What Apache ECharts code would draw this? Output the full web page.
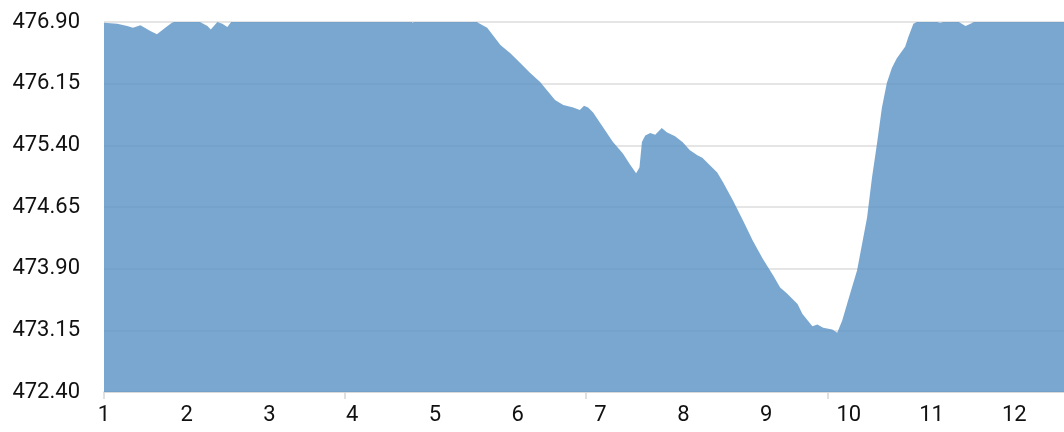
<!DOCTYPE html>
<html>
<head>
<meta charset="utf-8">
<script src="https://cdn.jsdelivr.net/npm/echarts@6/dist/echarts.min.js"></script>
<style>
  html, body { margin: 0; padding: 0; background: #fff; }
  #chart { width: 1064px; height: 432px; }
</style>
</head>
<body>
<div id="chart"></div>
<script>
// x positions along the axis
var distance = [
  1.00, 1.16, 1.28, 1.35, 1.44, 1.56, 1.64, 1.74, 1.82, 1.98,
  2.16, 2.25, 2.29, 2.37, 2.43, 2.49, 2.52, 2.58, 3.00, 3.50,
  4.00, 4.50, 4.73, 5.00, 5.40, 5.52, 5.63, 5.79, 5.91, 6.03,
  6.15, 6.27, 6.37, 6.45, 6.55, 6.67, 6.75, 6.80, 6.85, 6.91,
  7.03, 7.15, 7.27, 7.36, 7.43, 7.47, 7.50, 7.54, 7.60, 7.66,
  7.74, 7.80, 7.90, 7.99, 8.08, 8.17, 8.23, 8.30, 8.41, 8.48,
  8.60, 8.72, 8.84, 8.96, 9.09, 9.17, 9.25, 9.38, 9.44, 9.56,
  9.62, 9.69, 9.80, 9.86, 9.92, 9.99, 10.10, 10.16, 10.22, 10.28,
  10.34, 10.40, 10.46, 10.52, 10.58, 10.68, 10.72, 10.78, 10.92, 11.10,
  11.28, 11.41, 11.47, 11.71, 12.19, 12.60
];
// water level
var level = [
  476.89, 476.88, 476.85, 476.83, 476.86, 476.79, 476.75, 476.83, 476.89, 476.95,
  476.90, 476.85, 476.81, 476.90, 476.88, 476.84, 476.88, 476.95, 477.10, 477.25,
  477.30, 477.10, 476.89, 477.10, 477.00, 476.89, 476.83, 476.62, 476.52, 476.40,
  476.28, 476.17, 476.05, 475.95, 475.89, 475.86, 475.83, 475.88, 475.86, 475.80,
  475.62, 475.44, 475.30, 475.16, 475.06, 475.13, 475.44, 475.52, 475.55, 475.53,
  475.61, 475.56, 475.51, 475.44, 475.34, 475.28, 475.25, 475.18, 475.07, 474.95,
  474.73, 474.49, 474.24, 474.02, 473.81, 473.67, 473.60, 473.47, 473.35, 473.20,
  473.22, 473.18, 473.16, 473.12, 473.27, 473.51, 473.88, 474.20, 474.52, 475.01,
  475.42, 475.86, 476.16, 476.34, 476.46, 476.60, 476.72, 476.88, 476.95, 476.89,
  476.93, 476.85, 476.88, 477.00, 477.05, 477.10
];
var yTicks = [472.40, 473.15, 473.90, 474.65, 475.40, 476.15, 476.90];
var xLabels = [1, 2, 3, 4, 5, 6, 7, 8, 9, 10, 11, 12];
var xTicks = [1, 3.91, 6.82, 9.74];

var seriesData = distance.map(function (d, i) {
  return [d, level[i]];
});

var myChart = echarts.init(document.getElementById("chart"));
var option = {
  animation: false,
  backgroundColor: "#fff",
  grid: {
    left: 104,
    right: 0,
    top: 22,
    bottom: 40,
  },
  xAxis: {
    type: "value",
    min: 1,
    max: 12.6,
    axisLine: {
      lineStyle: { color: "#d6d6d6", width: 1.5 },
    },
    axisTick: {
      show: true,
      length: 7,
      customValues: xTicks,
      lineStyle: { color: "#d6d6d6", width: 1.5 },
    },
    axisLabel: {
      customValues: xLabels,
      margin: 12,
      color: "#111",
      fontFamily: "Roboto",
      fontSize: 22,
      formatter: function (v) {
        return String(Math.round(v));
      },
    },
    splitLine: { show: false },
  },
  yAxis: {
    type: "value",
    min: 472.4,
    max: 476.9,
    axisLine: { show: false },
    axisTick: { show: false, customValues: yTicks },
    axisLabel: {
      customValues: yTicks,
      margin: 24,
      color: "#111",
      fontFamily: "Roboto",
      fontSize: 22,
      formatter: function (v) {
        return v.toFixed(2);
      },
    },
    splitLine: {
      lineStyle: { color: "#dcdcdc", width: 1.5 },
    },
  },
  series: [
    {
      type: "line",
      data: seriesData,
      showSymbol: false,
      symbol: "none",
      clip: true,
      lineStyle: { width: 0 },
      areaStyle: {
        origin: "start",
        color: "#5991c4",
        opacity: 0.8,
      },
    },
  ],
};
myChart.setOption(option);
</script>
</body>
</html>
